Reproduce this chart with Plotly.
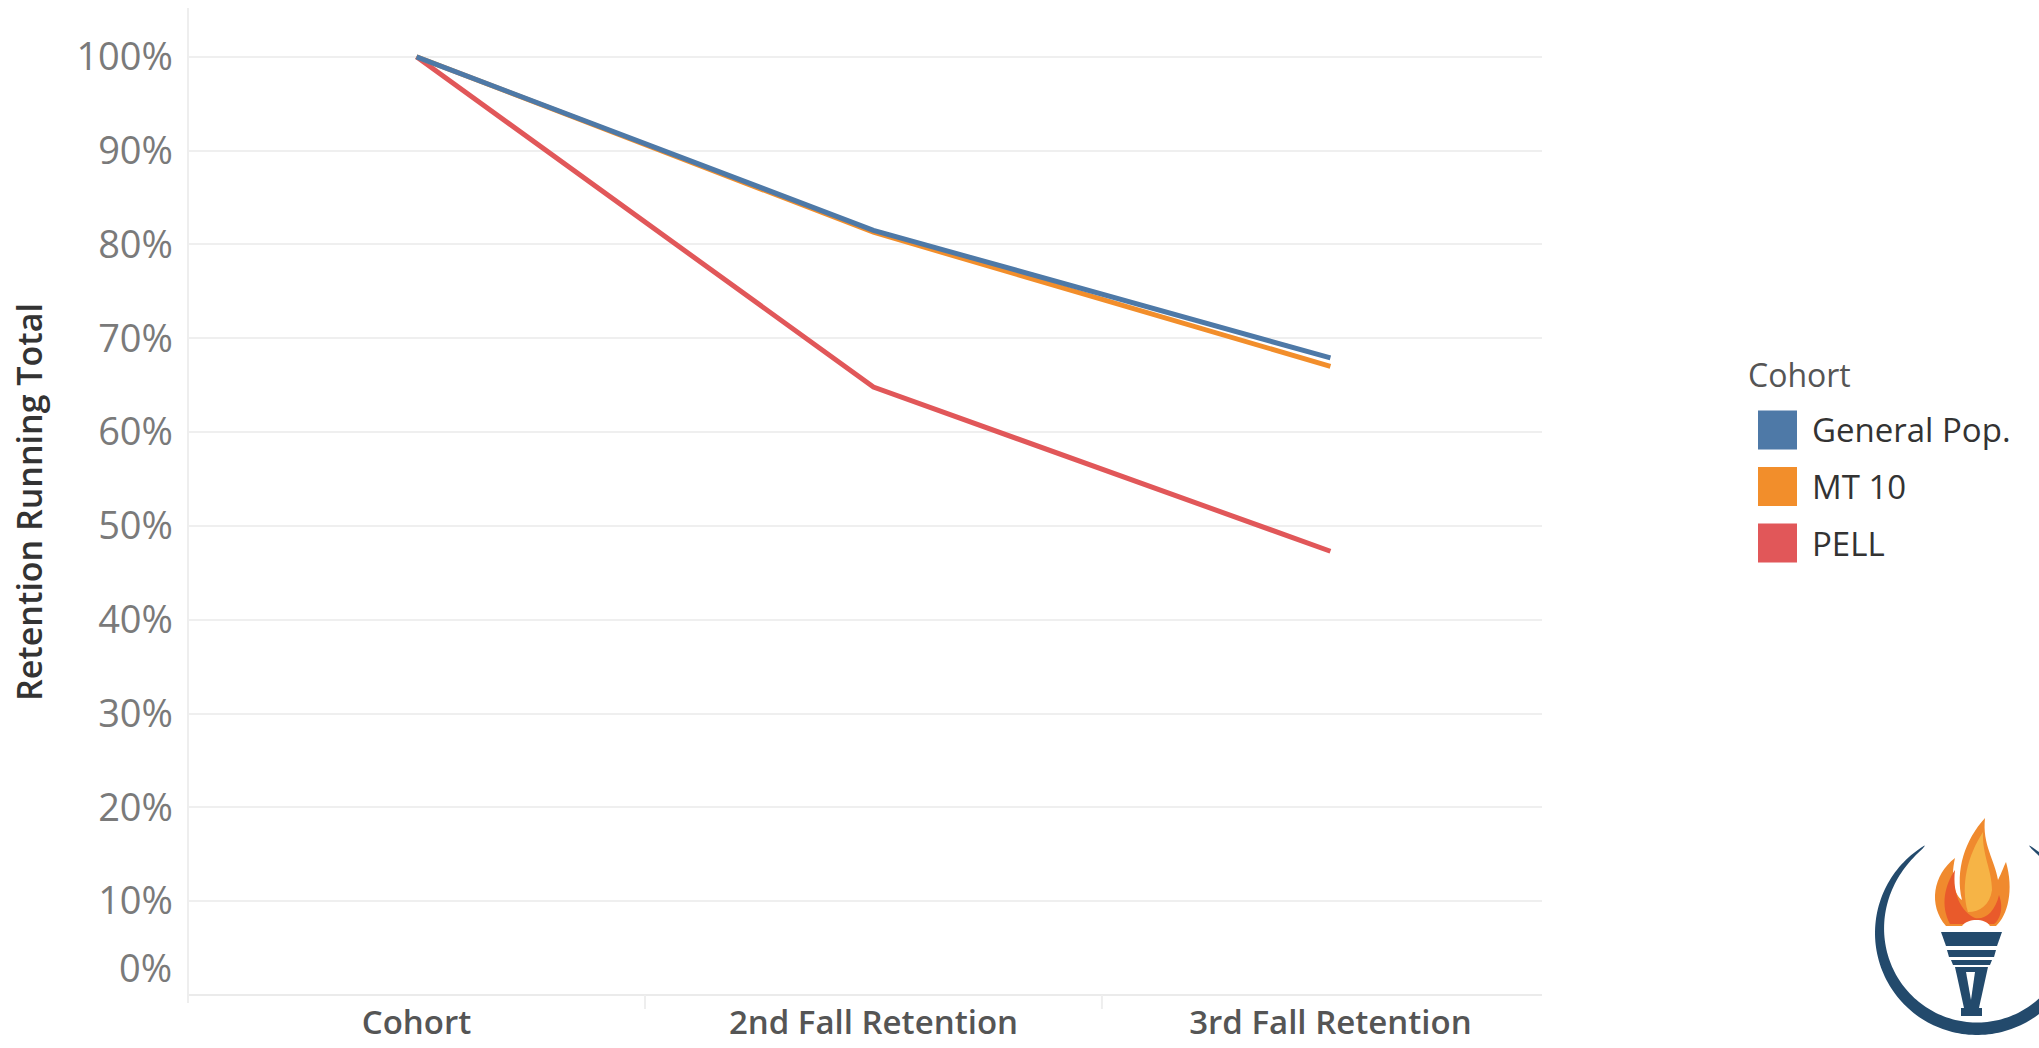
import numpy as np
import plotly.graph_objects as go

# ---- data -------------------------------------------------------------
STAGES = ["Cohort", "2nd Fall Retention", "3rd Fall Retention"]
GENERAL_POP = [100.0, 81.5, 67.9]
MT_10 = [100.0, 81.3, 67.0]
PELL = [100.0, 64.8, 47.3]
SERIES_NAMES = ["General Pop.", "MT 10", "PELL"]
SERIES_COLORS = ["#4E79A7", "#F28E2B", "#E15759"]
Y_TICKS = [0, 10, 20, 30, 40, 50, 60, 70, 80, 90, 100]

# ---- page geometry (pixels) ------------------------------------------
W, H = 2039, 1048
PL, PR, PT, PB = 188, 1542, 8, 995   # plot area edges
TICK_FONT = dict(size=38, color="#7A7A7A")


def px(xp, yp):
    """Pixel position -> paper coordinates."""
    return (xp - PL) / (PR - PL), (PB - yp) / (PB - PT)


def path_of(points, close=True):
    parts = []
    for i, (a, b) in enumerate(points):
        x, y = px(a, b)
        parts.append(("M" if i == 0 else "L") + f"{x:.5f},{y:.5f}")
    return " ".join(parts) + (" Z" if close else "")


def bez(cmds):
    """cmds: list of (letter, [(x,y),...]) in pixels -> svg path in paper."""
    out = []
    for letter, pts in cmds:
        if letter == "Z":
            out.append("Z")
            continue
        coords = " ".join("{:.5f},{:.5f}".format(*px(a, b)) for a, b in pts)
        out.append(f"{letter}{coords}")
    return " ".join(out)


fig = go.Figure()

# draw order: PELL underneath, General Pop. on top
for name, vals, col in [
    (SERIES_NAMES[2], PELL, SERIES_COLORS[2]),
    (SERIES_NAMES[1], MT_10, SERIES_COLORS[1]),
    (SERIES_NAMES[0], GENERAL_POP, SERIES_COLORS[0]),
]:
    fig.add_trace(go.Scatter(
        x=STAGES, y=[v / 100 for v in vals], mode="lines", name=name,
        line=dict(color=col, width=5), showlegend=False,
        hovertemplate="%{x}<br>%{y:.1%}<extra>" + name + "</extra>",
    ))

tick_vals = [v / 100 for v in Y_TICKS]
tick_text = [f"{v}%" if v else "" for v in Y_TICKS]

fig.update_layout(
    width=W, height=H,
    margin=dict(l=PL, r=W - PR, t=PT, b=H - PB, autoexpand=False),
    paper_bgcolor="white", plot_bgcolor="white",
    font=dict(family="Open Sans, sans-serif"),
    xaxis=dict(
        type="category", range=[-0.5, 2.463], showgrid=False, zeroline=False,
        showline=False, ticks="", ticklabelstandoff=5,
        tickfont=dict(size=33, color="#555555", weight=600),
    ),
    yaxis=dict(
        range=[0, 1.052], tickvals=tick_vals, ticktext=tick_text,
        showgrid=True, gridcolor="#EFEFEF", gridwidth=2,
        zeroline=True, zerolinecolor="#EBEBEB", zerolinewidth=2,
        showline=False, ticks="", ticklabelstandoff=14,
        tickfont=TICK_FONT,
    ),
)

shapes = []
annotations = []

# left axis rule and category separators
shapes.append(dict(type="line", xref="paper", yref="paper", x0=0, x1=0,
                   y0=1, y1=px(0, 1003)[1], line=dict(color="#EEEEEE", width=2)))
for b in [0.5, 1.5]:
    shapes.append(dict(type="line", xref="x", yref="paper", x0=b, x1=b,
                       y0=0, y1=px(0, 1009)[1], line=dict(color="#EEEEEE", width=2)))

# zero label sits above its gridline
annotations.append(dict(text="0%", xref="paper", yref="y", x=0, y=0,
                        xanchor="right", yanchor="middle", xshift=-14, yshift=28,
                        showarrow=False, font=TICK_FONT))

# y axis title
annotations.append(dict(text="Retention Running Total", xref="paper", yref="paper",
                        x=px(29, 0)[0], y=px(0, 502)[1], textangle=-90,
                        xanchor="center", yanchor="middle", showarrow=False,
                        font=dict(size=34, color="#333333", weight=600)))

# legend (colour swatches + labels)
lx, _ = px(1746, 0)
annotations.append(dict(text="Cohort", xref="paper", yref="paper", x=lx, y=px(0, 374)[1],
                        xanchor="left", yanchor="middle", showarrow=False,
                        font=dict(size=32, color="#555555")))
for i, (name, col) in enumerate(zip(SERIES_NAMES, SERIES_COLORS)):
    cy = 430 + i * 56.5
    x0, y0 = px(1758, cy - 19.5)
    x1, y1 = px(1797, cy + 19.5)
    shapes.append(dict(type="rect", xref="paper", yref="paper", x0=x0, x1=x1,
                       y0=y0, y1=y1, fillcolor=col, line=dict(width=0)))
    annotations.append(dict(text=name, xref="paper", yref="paper", x=px(1810, 0)[0],
                            y=px(0, cy)[1], xanchor="left", yanchor="middle",
                            showarrow=False, font=dict(size=33, color="#333333")))

# ---- torch emblem in the lower-right corner ---------------------------
NAVY = "#234A6C"
cx, cy, R = 1977, 933, 102
th = np.linspace(np.radians(121), np.radians(419), 160)
s = (th - th[0]) / (th[-1] - th[0])
thick = 12 * np.sin(np.pi * s) ** 0.6 + 0.5
outer = [(cx + R * np.cos(t), cy - R * np.sin(t)) for t in th]
inner = [(cx + (R - k) * np.cos(t), cy - (R - k) * np.sin(t)) for t, k in zip(th, thick)]
shapes.append(dict(type="path", xref="paper", yref="paper",
                   path=path_of(outer + inner[::-1]), fillcolor=NAVY, line=dict(width=0)))

# cup bands
for pts in [
    [(1941, 932), (2002, 932), (1997, 946), (1946, 946)],
    [(1947, 950), (1996, 950), (1994, 957), (1949, 957)],
    [(1951, 960), (1992, 960), (1990, 965), (1953, 965)],
]:
    shapes.append(dict(type="path", xref="paper", yref="paper", path=path_of(pts),
                       fillcolor=NAVY, line=dict(width=0)))
# handle with a V cut-out
shapes.append(dict(type="path", xref="paper", yref="paper",
                   path=path_of([(1955, 967), (1988, 967), (1979, 1008), (1964, 1008)]),
                   fillcolor=NAVY, line=dict(width=0)))
shapes.append(dict(type="path", xref="paper", yref="paper",
                   path=path_of([(1966, 972), (1975, 972), (1971, 1000)]),
                   fillcolor="white", line=dict(width=0)))
shapes.append(dict(type="path", xref="paper", yref="paper",
                   path=path_of([(1961, 1008), (1982, 1008), (1982, 1016), (1961, 1016)]),
                   fillcolor=NAVY, line=dict(width=0)))

# flame: outer orange, inner highlights
shapes.append(dict(type="path", xref="paper", yref="paper", line=dict(width=0),
                   fillcolor="#F08A2E",
                   path=bez([("M", [(1946, 926)]),
                             ("C", [(1928, 905), (1933, 875), (1955, 858)]),
                             ("C", [(1950, 880), (1955, 895), (1962, 900)]),
                             ("C", [(1955, 870), (1965, 840), (1985, 818)]),
                             ("C", [(1982, 845), (1995, 860), (1998, 880)]),
                             ("C", [(2002, 872), (2004, 866), (2006, 862)]),
                             ("C", [(2014, 890), (2008, 915), (1996, 926)]),
                             ("Z", [])])))
shapes.append(dict(type="path", xref="paper", yref="paper", line=dict(width=0),
                   fillcolor="#F6B446",
                   path=bez([("M", [(1968, 912)]),
                             ("C", [(1960, 885), (1968, 855), (1983, 832)]),
                             ("C", [(1982, 855), (1992, 870), (1992, 890)]),
                             ("C", [(1990, 905), (1980, 912), (1968, 912)]),
                             ("Z", [])])))
shapes.append(dict(type="path", xref="paper", yref="paper", line=dict(width=0),
                   fillcolor="#E95A2B",
                   path=bez([("M", [(1950, 924)]),
                             ("C", [(1940, 905), (1945, 885), (1955, 870)]),
                             ("C", [(1952, 895), (1962, 912), (1975, 918)]),
                             ("C", [(1985, 920), (1995, 912), (1999, 895)]),
                             ("C", [(2004, 908), (2000, 920), (1994, 924)]),
                             ("Z", [])])))
shapes.append(dict(type="path", xref="paper", yref="paper", line=dict(width=0),
                   fillcolor="white",
                   path=bez([("M", [(1962, 926)]),
                             ("C", [(1968, 918), (1985, 918), (1990, 926)]),
                             ("Z", [])])))

fig.update_layout(shapes=shapes, annotations=annotations)
fig.write_html("out.html")
